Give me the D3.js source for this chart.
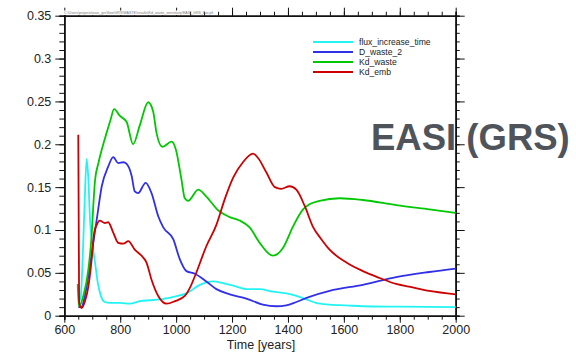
<!DOCTYPE html>
<html>
<head>
<meta charset="utf-8">
<script src="https://cdn.jsdelivr.net/npm/d3@7"></script>
<style>
  html, body { margin: 0; padding: 0; background: #fff; }
  svg text { font-family: "Liberation Sans", Arial, sans-serif; }
</style>
</head>
<body>
<div id="chart"></div>
<script>
// values: [year, value]
var fluxIncreaseTime = [[650,0.016],[658,0.02],[665,0.06],[672,0.125],[680,0.183],[686,0.16],[692,0.112],[700,0.085],[710,0.062],[720,0.038],[730,0.024],[745,0.016],[763,0.015],[800,0.015],[835,0.014],[870,0.017],[906,0.018],[942,0.019],[990,0.022],[1037,0.026],[1085,0.036],[1132,0.040],[1168,0.038],[1216,0.034],[1251,0.031],[1299,0.031],[1346,0.028],[1394,0.026],[1430,0.023],[1466,0.019],[1500,0.015],[1549,0.013],[1610,0.012],[1668,0.011],[1800,0.0105],[1900,0.0102],[2000,0.010]];
var dWaste2 = [[650,0.010],[662,0.010],[670,0.018],[680,0.034],[698,0.073],[716,0.112],[734,0.151],[757,0.174],[775,0.185],[793,0.178],[811,0.179],[823,0.177],[841,0.163],[852,0.145],[864,0.143],[891,0.155],[912,0.143],[936,0.116],[954,0.103],[990,0.089],[1013,0.066],[1037,0.052],[1067,0.049],[1108,0.040],[1144,0.031],[1192,0.025],[1251,0.020],[1310,0.013],[1358,0.011],[1394,0.012],[1430,0.016],[1477,0.022],[1549,0.029],[1668,0.036],[1787,0.045],[1906,0.051],[2000,0.055]];
var kdWaste = [[648,0.037],[652,0.011],[668,0.023],[686,0.054],[698,0.095],[704,0.13],[710,0.158],[722,0.178],[735,0.195],[751,0.213],[765,0.228],[778,0.241],[799,0.233],[823,0.226],[846,0.200],[870,0.222],[900,0.249],[918,0.238],[930,0.213],[951,0.197],[984,0.203],[999,0.194],[1019,0.159],[1031,0.137],[1043,0.134],[1079,0.147],[1108,0.139],[1150,0.123],[1192,0.115],[1227,0.111],[1263,0.103],[1299,0.085],[1346,0.070],[1382,0.079],[1418,0.104],[1454,0.124],[1477,0.130],[1513,0.134],[1585,0.137],[1668,0.135],[1787,0.129],[1906,0.124],[2000,0.120]];
var kdEmb = [[650,0.211],[653,0.015],[662,0.009],[675,0.018],[686,0.034],[698,0.066],[707,0.097],[716,0.106],[727,0.111],[745,0.108],[757,0.109],[775,0.097],[793,0.085],[811,0.084],[829,0.087],[852,0.077],[882,0.068],[894,0.062],[912,0.042],[936,0.023],[966,0.014],[996,0.017],[1031,0.023],[1050,0.033],[1067,0.046],[1108,0.081],[1144,0.106],[1174,0.136],[1204,0.161],[1239,0.179],[1275,0.189],[1293,0.184],[1323,0.167],[1353,0.150],[1376,0.148],[1406,0.151],[1430,0.147],[1460,0.128],[1489,0.104],[1520,0.089],[1549,0.077],[1609,0.062],[1668,0.052],[1728,0.044],[1787,0.037],[1846,0.033],[1906,0.029],[2000,0.025]];

var seriesNames = ["flux_increase_time", "D_waste_2", "Kd_waste", "Kd_emb"];
var seriesColors = ["#22f4f4", "#3030e8", "#00c800", "#cc0000"];
var xTickLabels = [600, 800, 1000, 1200, 1400, 1600, 1800, 2000];
var yTickLabels = ["0", "0.05", "0.1", "0.15", "0.2", "0.25", "0.3", "0.35"];

var width = 576, height = 352;
var margin = {top: 15.7, right: 120.3, bottom: 36.3, left: 64.3};

var svg = d3.select("#chart").append("svg")
  .attr("width", width).attr("height", height);

var x = d3.scaleLinear().domain([600, 2000]).range([margin.left, width - margin.right]);
var y = d3.scaleLinear().domain([0, 0.35]).range([height - margin.bottom, margin.top]);

var xMinor = d3.range(600, 2001, 50);
var yMinor = d3.range(0, 36).map(function(i) { return i / 100; });
var yMajor = yTickLabels.map(Number);

function styleAxis(g) {
  g.selectAll("line").attr("stroke", "#111").attr("stroke-width", 1);
  g.select(".domain").attr("stroke", "#111").attr("stroke-width", 1.6);
  g.selectAll("text").attr("fill", "#222").style("font-size", "12.5px");
}

// bottom
svg.append("g").attr("transform", "translate(0," + y(0) + ")")
  .call(d3.axisBottom(x).tickValues(xMinor).tickSize(4).tickFormat(""))
  .call(styleAxis);
svg.append("g").attr("transform", "translate(0," + y(0) + ")")
  .call(d3.axisBottom(x).tickValues(xTickLabels).tickSize(7).tickPadding(2).tickSizeOuter(0).tickFormat(d3.format("d")))
  .call(styleAxis);
// top
svg.append("g").attr("transform", "translate(0," + y(0.35) + ")")
  .call(d3.axisTop(x).tickValues(xMinor).tickSize(4).tickFormat(""))
  .call(styleAxis);
svg.append("g").attr("transform", "translate(0," + y(0.35) + ")")
  .call(d3.axisTop(x).tickValues(xTickLabels).tickSize(8).tickSizeOuter(0).tickFormat(""))
  .call(styleAxis);
// left
svg.append("g").attr("transform", "translate(" + x(600) + ",0)")
  .call(d3.axisLeft(y).tickValues(yMinor).tickSize(5).tickFormat(""))
  .call(styleAxis);
svg.append("g").attr("transform", "translate(" + x(600) + ",0)")
  .call(d3.axisLeft(y).tickValues(yMajor).tickSize(9).tickPadding(4).tickSizeOuter(0)
    .tickFormat(function(d, i) { return yTickLabels[i]; }))
  .call(styleAxis);
// right
svg.append("g").attr("transform", "translate(" + x(2000) + ",0)")
  .call(d3.axisRight(y).tickValues(yMinor).tickSize(4).tickFormat(""))
  .call(styleAxis);
svg.append("g").attr("transform", "translate(" + x(2000) + ",0)")
  .call(d3.axisRight(y).tickValues(yMajor).tickSize(9).tickSizeOuter(0).tickFormat(""))
  .call(styleAxis);

// tiny file path header
svg.append("rect").attr("x", 63).attr("y", 10.5).attr("width", 125).attr("height", 4.5).attr("fill", "#fff");
svg.append("text").attr("x", 64).attr("y", 14.3)
  .attr("fill", "#777").style("font-size", "3.6px")
  .text("C:\\Users\\projects\\easi_grs\\flow\\GRS\\WASTE\\results\\Kd_waste_sensitivity\\EASI_GRS_flux.plt");

svg.append("text").attr("x", 261).attr("y", 348.5)
  .attr("text-anchor", "middle").attr("fill", "#222").style("font-size", "12.5px")
  .text("Time [years]");

var line = d3.line()
  .x(function(d) { return x(d[0]); })
  .y(function(d) { return y(d[1]); })
  .curve(d3.curveMonotoneX);

var allSeries = [fluxIncreaseTime, dWaste2, kdWaste, kdEmb];
var drawOrder = [0, 1, 2, 3];
svg.append("g").selectAll("path").data(drawOrder).enter().append("path")
  .attr("d", function(i) { return line(allSeries[i]); })
  .attr("fill", "none")
  .attr("stroke", function(i) { return seriesColors[i]; })
  .attr("stroke-width", 1.8)
  .attr("stroke-linejoin", "round");

// legend
var legend = svg.append("g").attr("transform", "translate(313,42)");
var rows = legend.selectAll("g").data(seriesNames).enter().append("g")
  .attr("transform", function(d, i) { return "translate(0," + (i * 10) + ")"; });
rows.append("line").attr("x1", 0).attr("x2", 40).attr("y1", 0).attr("y2", 0)
  .attr("stroke", function(d, i) { return seriesColors[i]; }).attr("stroke-width", 2);
rows.append("text").attr("x", 46).attr("y", 3)
  .attr("fill", "#222").style("font-size", "8.6px")
  .text(function(d) { return d; });

// big overlay label
svg.append("text").attr("x", 371).attr("y", 150)
  .attr("fill", "#4f545b").style("font-size", "36.5px").style("font-weight", "bold")
  .text("EASI (GRS)");
</script>
</body>
</html>
